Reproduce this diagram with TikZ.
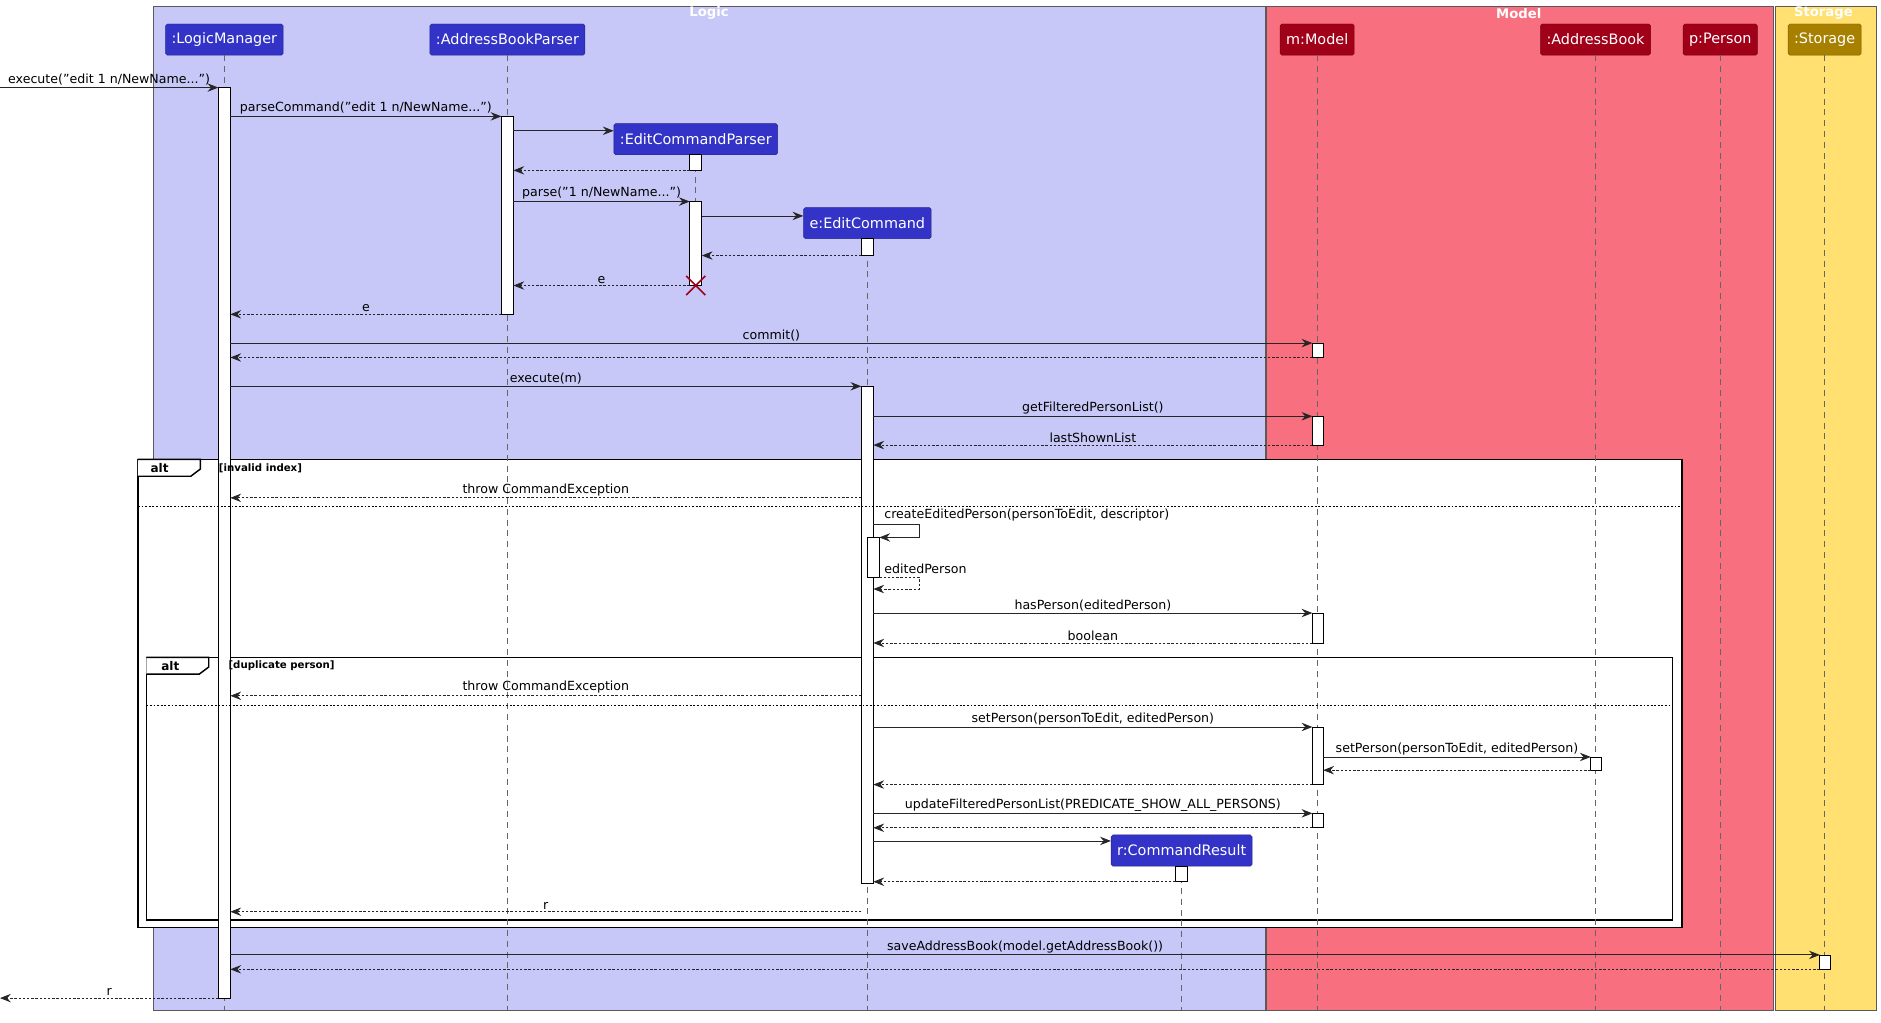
\documentclass[tikz,border=0pt]{standalone}
\usepackage{fontspec}
\setmainfont{DejaVu Sans}
\usetikzlibrary{arrows.meta}
\definecolor{logicbg}{HTML}{C8C8F8}
\definecolor{modelbg}{HTML}{F87080}
\definecolor{storbg}{HTML}{FFE070}
\definecolor{logicp}{HTML}{3333C8}
\definecolor{modelp}{HTML}{A00018}
\definecolor{storp}{HTML}{A88000}
\tikzset{
 part/.style={draw=#1!70!black,fill=#1,text=white,rounded corners=1.5pt,minimum height=26pt,inner xsep=5pt,font=\fontsize{12}{14}\selectfont},
 life/.style={draw=gray!80!black,dash pattern=on 5pt off 4pt,line width=0.6pt},
 bar/.style={draw=black,fill=white,line width=0.6pt},
 call/.style={-{Stealth[length=9pt,width=7pt,inset=3pt]},line width=0.7pt,draw=black!85},
 ret/.style={call,dash pattern=on 2pt off 1.5pt},
 lbl/.style={font=\fontsize{10.5}{12}\selectfont,above=0.5pt,inner sep=1pt},
 grp/.style={draw=gray!70!black,line width=0.6pt},
 gtitle/.style={text=white,font=\bfseries\fontsize{11}{13}\selectfont},
 frame/.style={draw=black,line width=1.2pt,fill=white},
}
\begin{document}
\begin{tikzpicture}[x=1pt,y=-1pt]
\useasboundingbox (0,0) rectangle (1568,852);
% groups
\fill[white] (0,0) rectangle (1568,852);
\draw[grp,fill=logicbg] (128,5) rectangle (1055,842);
\draw[grp,fill=modelbg] (1056,5) rectangle (1478,842);
\draw[grp,fill=storbg] (1480,5) rectangle (1564,842);
\node[gtitle] at (591,11) {Logic};
\node[gtitle] at (1266,11) {Model};
\node[gtitle] at (1520,11) {Storage};
% alt frames
\draw[frame] (115,383) rectangle (1402,773);
\draw[frame] (122,548) rectangle (1394,767);
% participants
\node[part=logicp] (lm) at (187,33) {:LogicManager};
\node[part=logicp] (abp) at (423,33) {:AddressBookParser};
\node[part=logicp] (ecp) at (580,116) {:EditCommandParser};
\node[part=logicp] (ec) at (723,186) {e:EditCommand};
\node[part=modelp] (m) at (1098,33) {m:Model};
\node[part=modelp] (ab) at (1330,33) {:AddressBook};
\node[part=modelp] (p) at (1434,33) {p:Person};
\node[part=storp] (st) at (1521,33) {:Storage};
\node[part=logicp] (cr) at (985,709) {r:CommandResult};
% lifelines
\foreach \n in {lm,abp,m,ab,p,st,ec,cr} \draw[life] (\n.south) -- (\n.south |- 0,842);
\draw[life] (ecp.south) -- (580,238);
% activation bars
\draw[bar] (182,73) rectangle (192,832);
\draw[bar] (418,97) rectangle (428,262);
\draw[bar] (575,129) rectangle (585,142);
\draw[bar] (575,168) rectangle (585,238);
\draw[bar] (718,199) rectangle (728,213);
\draw[bar] (718,322) rectangle (728,736);
\draw[bar] (723,448) rectangle (733,481);
\draw[bar] (1094,286) rectangle (1103,298);
\draw[bar] (1094,347) rectangle (1103,371);
\draw[bar] (1094,511) rectangle (1103,536);
\draw[bar] (1094,606) rectangle (1103,654);
\draw[bar] (1094,678) rectangle (1103,690);
\draw[bar] (1326,631) rectangle (1335,642);
\draw[bar] (980,722) rectangle (990,735);
\draw[bar] (1517,796) rectangle (1526,808);
% destroy
\draw[draw=modelp,line width=1.3pt] (572,230) -- (588,246) (588,230) -- (572,246);
% alt labels
\foreach \x/\y in {115/383,122/548}{
 \draw[line width=1.2pt,fill=white] (\x,\y) -- ++(52,0) -- ++(0,8) -- ++(-8,6) -- ++(-44,0);
}
% messages
\coordinate (in) at (0,73);
\draw[call] (in) -- node[lbl]{execute("edit 1 n/NewName...")} (182,73);
\draw[call] (192,97) -- node[lbl]{parseCommand("edit 1 n/NewName...")} (418,97);
\draw[call] (428,109) -- (ecp.west |- 0,109);
\draw[ret] (575,142) -- (428,142);
\draw[call] (428,168) -- node[lbl]{parse("1 n/NewName...")} (575,168);
\draw[call] (585,180) -- (ec.west |- 0,180);
\draw[ret] (718,213) -- (585,213);
\draw[ret] (575,238) -- node[lbl]{e} (428,238);
\draw[ret] (418,262) -- node[lbl]{e} (192,262);
\draw[call] (192,286) -- node[lbl]{commit()} (1094,286);
\draw[ret] (1094,298) -- (192,298);
\draw[call] (192,322) -- node[lbl]{execute(m)} (718,322);
\draw[call] (728,347) -- node[lbl]{getFilteredPersonList()} (1094,347);
\draw[ret] (1094,371) -- node[lbl]{lastShownList} (728,371);
\draw[ret] (718,415) -- node[lbl]{throw CommandException} (192,415);
\draw[call] (728,437) -- (766,437) -- (766,448) -- (733,448);
\node[lbl,anchor=south west] at (736,436) {createEditedPerson(personToEdit, descriptor)};
\draw[ret] (733,481) -- (766,481) -- (766,491) -- (728,491);
\node[lbl,anchor=south west] at (736,480) {editedPerson};
\draw[call] (728,511) -- node[lbl]{hasPerson(editedPerson)} (1094,511);
\draw[ret] (1094,536) -- node[lbl]{boolean} (728,536);
\draw[ret] (718,580) -- node[lbl]{throw CommandException} (192,580);
\draw[call] (728,606) -- node[lbl]{setPerson(personToEdit, editedPerson)} (1094,606);
\draw[call] (1103,631) -- node[lbl]{setPerson(personToEdit, editedPerson)} (1326,631);
\draw[ret] (1326,642) -- (1103,642);
\draw[ret] (1094,654) -- (728,654);
\draw[call] (728,678) -- node[lbl]{updateFilteredPersonList(PREDICATE\_SHOW\_ALL\_PERSONS)} (1094,678);
\draw[ret] (1094,690) -- (728,690);
\draw[call] (728,701) -- (cr.west |- 0,701);
\draw[ret] (980,735) -- (728,735);
\draw[ret] (718,760) -- node[lbl]{r} (192,760);
\draw[call] (192,796) -- node[lbl]{saveAddressBook(model.getAddressBook())} (1517,796);
\draw[ret] (1517,808) -- (192,808);
\coordinate (out) at (0,832);
\draw[ret] (182,832) -- node[lbl]{r} (out);
% separators and alt texts
\draw[dash pattern=on 1.5pt off 1.5pt,line width=0.8pt] (115,422) -- (1402,422);
\draw[dash pattern=on 1.5pt off 1.5pt,line width=0.8pt] (122,588) -- (1394,588);
\node[font=\bfseries\fontsize{10}{12}\selectfont] at (133,390) {alt};
\node[font=\bfseries\fontsize{8.5}{10}\selectfont,anchor=west] at (179,390) {[invalid index]};
\node[font=\bfseries\fontsize{10}{12}\selectfont] at (142,555) {alt};
\node[font=\bfseries\fontsize{8.5}{10}\selectfont,anchor=west] at (187,555) {[duplicate person]};
\end{tikzpicture}
\end{document}
